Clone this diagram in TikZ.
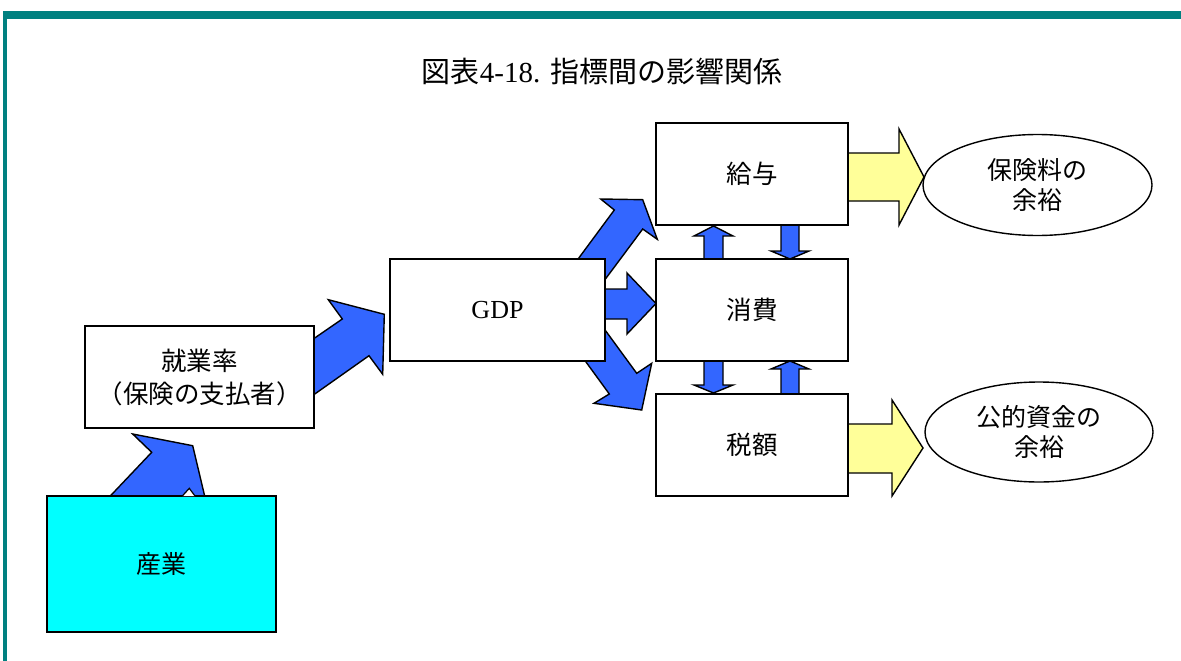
\documentclass[tikz,border=0pt]{standalone}
\usepackage{fontspec}
\setmainfont{Liberation Serif}
\newfontfamily\jp{Noto Sans CJK JP}
\usetikzlibrary{shapes.geometric}
\definecolor{frameteal}{RGB}{0,128,128}
\definecolor{arrowblue}{RGB}{51,102,255}
\definecolor{paleyellow}{RGB}{255,255,153}
\definecolor{boxcyan}{RGB}{0,255,255}
\begin{document}
\begin{tikzpicture}[x=1pt,y=-1pt,
  box/.style={draw=black, line width=1.8pt, fill=white, inner sep=0pt, align=center,
    minimum width=192pt, minimum height=102pt, font=\jp\fontsize{25.5}{33}\selectfont},
  oval/.style={ellipse, draw=black, line width=1.4pt, fill=white, inner sep=0pt, align=center,
    minimum width=229pt, minimum height=101pt, font=\jp\fontsize{25}{30}\selectfont},
  bluearrow/.style={fill=arrowblue, draw=black, line width=1.4pt, line join=miter},
  yellowarrow/.style={fill=paleyellow, draw=black, line width=1.4pt, line join=miter}]
\useasboundingbox (0,0) rectangle (1181,661);
% frame
\fill[frameteal] (3,11) rectangle (1181,19);
\fill[frameteal] (3,11) rectangle (7,661);
% title
\node[font=\fontsize{29}{34}\selectfont] (title) at (602,71) {{\jp 図表}4-18. {\jp 指標間の影響関係}};
% block arrows (behind the boxes)
\draw[bluearrow] (567,274) -- (614.3,210) -- (600.7,199) -- (642.7,199.7) -- (657.3,239.3) -- (642.7,229) -- (595,293) -- cycle;
\draw[bluearrow] (562,329) -- (609.3,394) -- (594,403.3) -- (641.7,410) -- (651.7,363.3) -- (636.7,373.3) -- (589.5,308.7) -- cycle;
\draw[bluearrow] (590,289) -- (627,289) -- (627,273) -- (656,303.5) -- (627,334) -- (627,319) -- (590,319) -- cycle;
\draw[bluearrow] (290,355) -- (342.3,319) -- (328.3,299.7) -- (384.3,314.3) -- (382.7,374.3) -- (369,355.7) -- (290,411.5) -- cycle;
\draw[bluearrow] (97,510) -- (151.7,452.3) -- (132.7,434) -- (192.7,445.7) -- (208,510) -- cycle;
\draw[bluearrow] (704,259) -- (704,236) -- (694,236) -- (713.5,226) -- (733,236) -- (723,236) -- (723,259) -- cycle;
\draw[bluearrow] (781,225) -- (781,251) -- (771,251) -- (790,259) -- (809,251) -- (799,251) -- (799,225) -- cycle;
\draw[bluearrow] (704,361) -- (704,385) -- (694,385) -- (713.5,393) -- (733,385) -- (723,385) -- (723,361) -- cycle;
\draw[bluearrow] (781,394) -- (781,369) -- (771,369) -- (790,361) -- (809,369) -- (799,369) -- (799,394) -- cycle;
\draw[yellowarrow] (840,153) -- (899,153) -- (899,129) -- (924,177) -- (899,225) -- (899,201) -- (840,201) -- cycle;
\draw[yellowarrow] (840,424) -- (892,424) -- (892,400) -- (923,448) -- (892,496) -- (892,473) -- (840,473) -- cycle;
% boxes
\node[box] (kyuyo) at (752,174) {給与};
\node[box] (shohi) at (752,310) {消費};
\node[box] (zeigaku) at (752,445) {税額};
\node[box, minimum width=215pt, font=\fontsize{26}{30}\selectfont] (gdp) at (497.5,310) {GDP};
\node[box, minimum width=229pt] (shugyo) at (199.5,377) {就業率\\（保険の支払者）};
\node[box, fill=boxcyan, minimum width=229pt, minimum height=136pt, font=\jp\fontsize{25}{30}\selectfont] (sangyo) at (161.5,564) {産業};
\filldraw[fill=white, draw=black, line width=1.2pt] (182.3,496) -- (189.3,488.3) -- (195,496);
% ovals
\node[oval] (hoken) at (1037.5,185) {保険料の\\余裕};
\node[oval, minimum width=228pt, minimum height=100pt] (koteki) at (1039,432) {公的資金の\\余裕};
\end{tikzpicture}
\end{document}
